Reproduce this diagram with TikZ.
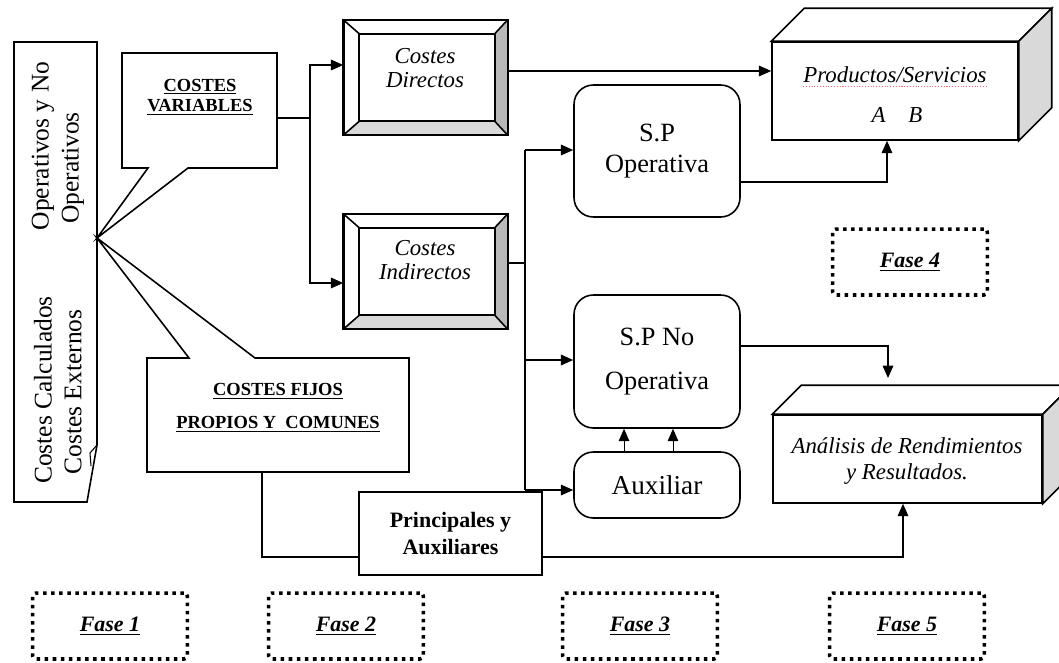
\documentclass[tikz,border=0pt]{standalone}
\usepackage{fontspec}
\setmainfont{Liberation Serif}
\usetikzlibrary{arrows.meta,calc,positioning}

\tikzset{
  box/.style={draw, line width=0.9pt, fill=white, inner sep=0pt},
  spbox/.style={box, rounded corners=11pt, minimum width=3.32cm, align=center},
  bevelbox/.style={box, minimum width=3.26cm, minimum height=2.28cm},
  cube/.style={box},
  fase/.style={draw, line width=2pt, dash pattern=on 2pt off 2.6pt, rounded corners=2pt,
    minimum width=3.1cm, minimum height=1.32cm, font=\bfseries\itshape\fontsize{12.5}{14}\selectfont},
  conn/.style={line width=0.8pt, -{Triangle[length=7pt,width=6pt]}},
  wire/.style={line width=0.8pt},
  txt/.style={inner sep=0pt, align=center},
  vtxt/.style={txt, rotate=90, font=\fontsize{14.5}{16}\selectfont},
  boldtxt/.style={txt, font=\bfseries\fontsize{10.5}{11.5}\selectfont},
  itxt/.style={txt, font=\itshape\fontsize{13}{13.5}\selectfont}
}

% bevelled frame round a node
\newcommand\bevelframe[1]{%
  \fill[gray!55] (#1.north east) -- (#1.south east) -- ($(#1.south east)+(-0.26cm,0.28cm)$) -- ($(#1.north east)+(-0.26cm,-0.28cm)$) -- cycle;
  \fill[gray!30] (#1.south west) -- (#1.south east) -- ($(#1.south east)+(-0.26cm,0.28cm)$) -- ($(#1.south west)+(0.32cm,0.28cm)$) -- cycle;
  \draw[line width=0.9pt] ($(#1.north west)+(0.32cm,-0.28cm)$) rectangle ($(#1.south east)+(-0.26cm,0.28cm)$);
  \foreach \c/\dx/\dy in {north west/0.32/-0.28, north east/-0.26/-0.28, south east/-0.26/0.28, south west/0.32/0.28}
    \draw[line width=0.9pt] (#1.\c) -- ++(\dx cm,\dy cm);
  \draw[line width=0.9pt] (#1.north west) rectangle (#1.south east);
}

% 3d block round a node
\newcommand\cubeframe[2]{%
  \filldraw[fill=white, line width=0.9pt] (#1.north west) -- ++(#2,#2) -- ($(#1.north east)+(#2,#2)$) -- (#1.north east) -- cycle;
  \filldraw[fill=gray!30, line width=0.9pt] (#1.north east) -- ++(#2,#2) -- ($(#1.south east)+(#2,#2)$) -- (#1.south east) -- cycle;
}

\begin{document}
\begin{tikzpicture}[x=0.02cm, y=-0.02cm]
  \useasboundingbox (0,0) rectangle (1059,663);

  \coordinate (tip) at (97,238);

  % Fase 1: left box
  \draw[line width=0.9pt, fill=white] (14,42) -- (97,42) -- (97,445) -- (87,502) -- (14,502) -- cycle;
  \draw[line width=0.6pt] (97,445) -- (90,453) -- (91,466);
  \node[vtxt] (calc) at (43,390) {Costes Calculados};
  \node[vtxt] (oper) at (43,146) {Operativos y No};
  \node[vtxt] (ext) at (73,392) {Costes Externos};
  \node[vtxt] (noop) at (73,168) {Operativos};

  % Callouts
  \draw[line width=0.9pt, fill=white] (122,53) -- (277,53) -- (277,168) -- (188,168) -- (tip)
    -- (148,168) -- (122,168) -- cycle;
  \draw[line width=0.9pt, fill=white] (147,358) -- (189,358) -- (tip) -- (255,358)
    -- (409,358) -- (409,472) -- (147,472) -- cycle;
  \node[boldtxt] (varT) at (200,97) {\underline{COSTES}\\\underline{VARIABLES}};
  \node[boldtxt, font=\bfseries\fontsize{10.5}{18.7}\selectfont] (fijT) at (278,408)
    {\underline{COSTES FIJOS}\\\underline{PROPIOS Y\ \ COMUNES}};
  \coordinate (var) at (277,118);
  \coordinate (fij) at (262,472);

  % Fase 2: bevelled boxes
  \node[bevelbox] (dir) at (425.5,77.5) {};
  \node[bevelbox] (ind) at (425.5,271.5) {};
  \bevelframe{dir}
  \bevelframe{ind}
  \node[itxt] (dirT) at (425,68) {Costes\\Directos};
  \node[itxt] (indT) at (425,260) {Costes\\Indirectos};

  % Fase 3: service units
  \node[spbox, minimum height=2.64cm, font=\fontsize{15}{17.6}\selectfont] (spop) at (657,151) {S.P\\Operativa};
  \node[spbox, minimum height=2.66cm, font=\fontsize{15}{25.5}\selectfont] (spno) at (657,361.5) {S.P No\\Operativa};
  \node[spbox, minimum height=1.32cm, font=\fontsize{15.5}{17}\selectfont] (aux) at (657,485) {Auxiliar};
  \node[box, minimum width=3.66cm, minimum height=1.66cm, align=center,
    font=\bfseries\fontsize{12.5}{15.3}\selectfont] (princ) at (450.5,533.5) {Principales y\\Auxiliares};

  % Fase 4 / 5: blocks
  \node[cube, minimum width=4.92cm, minimum height=1.96cm] (prod) at (895,91) {};
  \cubeframe{prod}{0.66cm}
  \node[itxt] (prodT) at (895,75) {Productos/Servicios};
  \draw[red!60, densely dotted, line width=0.6pt] ([yshift=-2pt]prodT.south west) -- ([yshift=-2pt]prodT.south east);
  \node[itxt] (ab) at (897,115) {A\quad B};
  \node[cube, minimum width=5.38cm, minimum height=1.76cm] (anal) at (907.5,459) {};
  \cubeframe{anal}{0.58cm}
  \node[itxt, font=\itshape\fontsize{13}{15.3}\selectfont] (analT) at (907,461) {Análisis de Rendimientos\\y Resultados.};

  % Connectors
  \coordinate (s1) at (310,118);
  \coordinate (d1) at (310,65);
  \coordinate (d2) at (310,283);
  \draw[wire] (var) -- (s1);
  \draw[conn] (s1) -- (d1) -- (d1 -| dir.west);
  \draw[conn] (s1) -- (d2) -- (d2 -| ind.west);

  \coordinate (a1) at (507,71);
  \draw[conn] (a1) -- (a1 -| prod.west);

  \coordinate (b1) at (525,263);
  \coordinate (b2) at (525,150);
  \coordinate (b3) at (525,360);
  \coordinate (b4) at (525,490);
  \draw[wire] (b1 -| ind.east) -- (b1);
  \draw[wire] (b2) -- (b4);
  \draw[conn] (b2) -- (b2 -| spop.west);
  \draw[conn] (b3) -- (b3 -| spno.west);
  \draw[conn] (b4) -- (b4 -| aux.west);

  \draw[conn, line width=0.5pt] ([xshift=-0.66cm]aux.north) -- ([xshift=-0.66cm]spno.south);
  \draw[conn, line width=0.5pt] ([xshift=0.32cm]aux.north) -- ([xshift=0.32cm]spno.south);

  \coordinate (c1) at (887,182);
  \draw[conn] (c1 -| spop.east) -- (c1) -- (c1 |- prod.south);
  \coordinate (c2) at (888,346);
  \coordinate (c3) at (888,378);
  \draw[conn] (c2 -| spno.east) -- (c2) -- (c3);

  \coordinate (e1) at (262,557);
  \coordinate (e2) at (903,557);
  \draw[wire] (fij) -- (e1) -- (e1 -| princ.west);
  \draw[conn] (e1 -| princ.east) -- (e2) -- (e2 |- anal.south);

  % Fases
  \node[fase] (f1) at (110,626) {\underline{Fase 1}};
  \node[fase] (f2) at (346,626) {\underline{Fase 2}};
  \node[fase] (f3) at (640,626) {\underline{Fase 3}};
  \node[fase] (f4) at (910,262) {\underline{Fase 4}};
  \node[fase] (f5) at (907,626) {\underline{Fase 5}};
\end{tikzpicture}
\end{document}
